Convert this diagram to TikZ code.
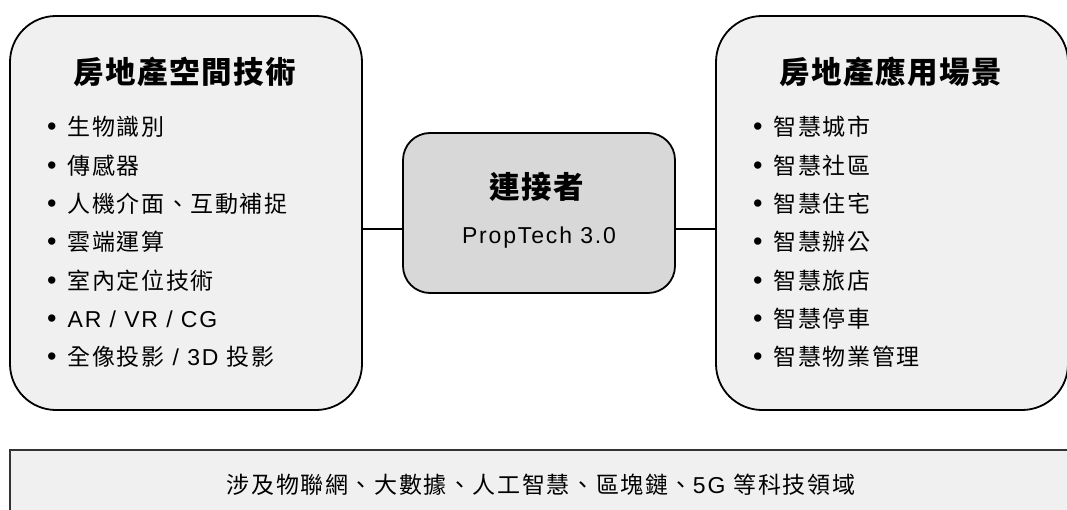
\documentclass[tikz,border=0pt]{standalone}
\usepackage{fontspec}
\setmainfont{Liberation Sans}
\newfontfamily\la[LetterSpace=8]{Liberation Sans}
\newfontfamily\cj[LetterSpace=7]{Noto Sans CJK TC}
\newfontfamily\cjt[LetterSpace=5]{Noto Sans CJK TC}
\definecolor{boxgray}{HTML}{F0F0F0}
\definecolor{hubgray}{HTML}{D8D8D8}
\definecolor{edgegray}{HTML}{333333}
\newcommand{\bul}{{\fontsize{27}{27}\selectfont\la •}\hspace{11pt}}
\tikzset{
  outer/.style={draw=black, line width=1.8pt, fill=boxgray, rounded corners=46pt,
    minimum width=352pt, minimum height=394pt, inner sep=0pt},
  hub/.style={draw=black, line width=1.8pt, fill=hubgray, rounded corners=27pt,
    minimum width=272pt, minimum height=160pt, inner sep=0pt},
  band/.style={draw=edgegray, line width=2.2pt, fill=boxgray,
    minimum width=1100pt, minimum height=100pt, inner sep=0pt},
  ttl/.style={inner sep=0pt, font=\cjt\bfseries\fontsize{30.5}{34}\selectfont},
  item/.style={anchor=west, inner sep=0pt, text height=17pt, text depth=5pt,
    font=\fontsize{23}{27}\selectfont},
  link/.style={line width=1.8pt}
}
\begin{document}
\begin{tikzpicture}[x=1pt,y=-1pt]
\clip (0,0) rectangle (1067,510);
\fill[white] (0,0) rectangle (1067,510);
% boxes
\node[outer] (L) at (186,213) {};
\node[outer] (R) at (892,213) {};
\node[hub] (C) at (539,213) {};
\node[band] (B) at (560,500) {};
% connectors
\coordinate (h) at (0,229);
\draw[link] (L.east |- h) -- (C.west |- h);
\draw[link] (C.east |- h) -- (R.west |- h);
% left
\node[ttl] (Lt) at (185,72) {房地產空間技術};
\node[item] (l1) at (47,130.0) {\bul{\cj 生物識別}};
\node[item] (l2) at (47,168.3) {\bul{\cj 傳感器}};
\node[item] (l3) at (47,206.6) {\bul{\cj 人機介面、互動補捉}};
\node[item] (l4) at (47,244.9) {\bul{\cj 雲端運算}};
\node[item] (l5) at (47,283.2) {\bul{\cj 室內定位技術}};
\node[item] (l6) at (47,321.5) {\bul{\la AR / VR / CG}};
\node[item] (l7) at (47,359.8) {\bul{\cj 全像投影}{\la\ / 3D }{\cj 投影}};
% right
\node[ttl] (Rt) at (891,72) {房地產應用場景};
\node[item] (r1) at (753,130.0) {\bul{\cj 智慧城市}};
\node[item] (r2) at (753,168.3) {\bul{\cj 智慧社區}};
\node[item] (r3) at (753,206.6) {\bul{\cj 智慧住宅}};
\node[item] (r4) at (753,244.9) {\bul{\cj 智慧辦公}};
\node[item] (r5) at (753,283.2) {\bul{\cj 智慧旅店}};
\node[item] (r6) at (753,321.5) {\bul{\cj 智慧停車}};
\node[item] (r7) at (753,359.8) {\bul{\cj 智慧物業管理}};
% center
\node[ttl] (Ct) at (537,187) {連接者};
\node[inner sep=0pt, font=\la\fontsize{23}{27}\selectfont] (Cs) at (539,238) {PropTech 3.0};
% bottom
\node[inner sep=0pt, font=\fontsize{23}{27}\selectfont] (Bt) at (541,485)
  {{\cj 涉及物聯網、大數據、人工智慧、區塊鏈、}{\la 5G }{\cj 等科技領域}};
\end{tikzpicture}
\end{document}
